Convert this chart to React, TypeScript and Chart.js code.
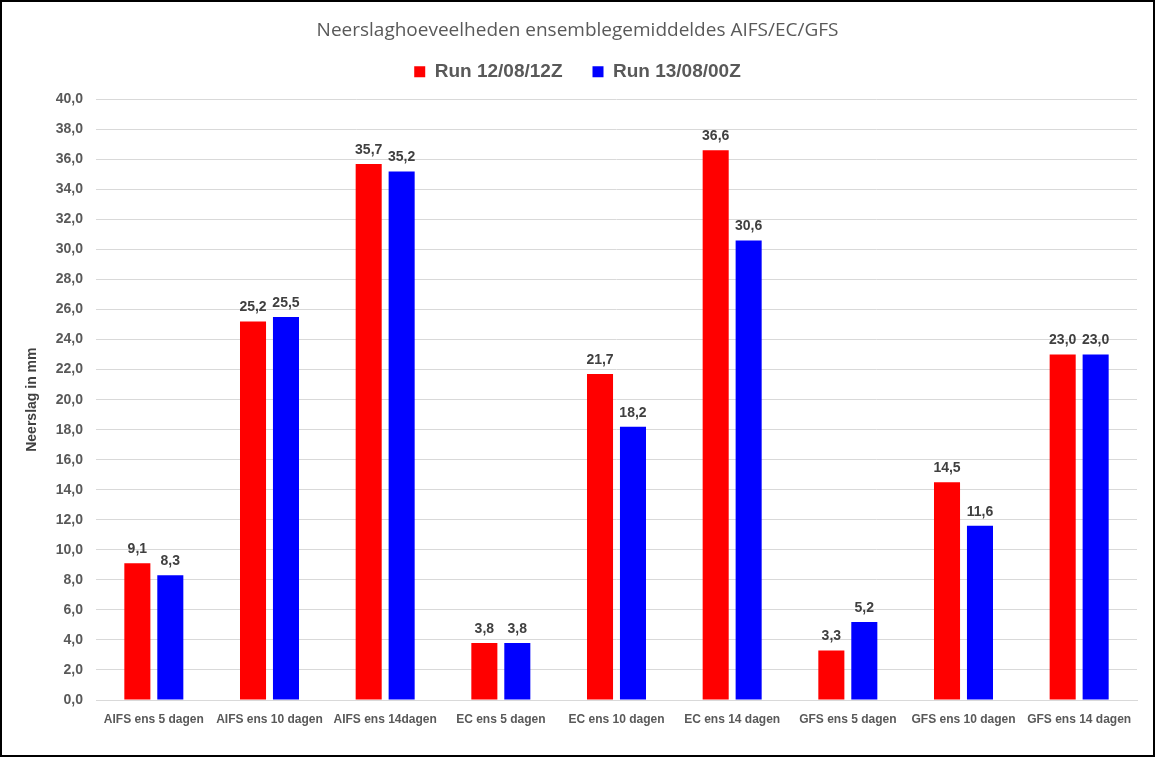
import React, { useEffect, useRef } from "react";
import { Chart, registerables } from "chart.js";

Chart.register(...registerables);

const categories = [
  "AIFS ens 5 dagen",
  "AIFS ens 10 dagen",
  "AIFS ens 14dagen",
  "EC ens 5 dagen",
  "EC ens 10 dagen",
  "EC ens 14 dagen",
  "GFS ens 5 dagen",
  "GFS ens 10 dagen",
  "GFS ens 14 dagen",
];
const run1Label = "Run 12/08/12Z";
const run2Label = "Run 13/08/00Z";
const run1Values = [9.1, 25.2, 35.7, 3.8, 21.7, 36.6, 3.3, 14.5, 23.0];
const run2Values = [8.3, 25.5, 35.2, 3.8, 18.2, 30.6, 5.2, 11.6, 23.0];
const chartTitle = "Neerslaghoeveelheden ensemblegemiddeldes AIFS/EC/GFS";
const yAxisTitle = "Neerslag in mm";

const fmt = (v: number) => v.toFixed(1).replace(".", ",");
const SANS = "'Liberation Sans', Arial, sans-serif";

const dataLabelPlugin = {
  id: "dataLabels",
  afterDatasetsDraw(chart: any) {
    const ctx = chart.ctx;
    ctx.save();
    ctx.font = `bold 14px ${SANS}`;
    ctx.fillStyle = "#404040";
    ctx.textAlign = "center";
    ctx.textBaseline = "bottom";
    chart.data.datasets.forEach((ds: any, di: number) => {
      const meta = chart.getDatasetMeta(di);
      meta.data.forEach((el: any, i: number) => {
        ctx.fillText(fmt(ds.data[i]), el.x, el.y - 7);
      });
    });
    ctx.restore();
  },
};

// adds a little space below the legend
const legendSpacePlugin = {
  id: "legendSpace",
  beforeInit(chart: any) {
    const legend = chart.legend;
    if (!legend) return;
    const origFit = legend.fit;
    legend.fit = function () {
      origFit.call(this);
      this.height += 8;
    };
  },
};

export default function App() {
  const ref = useRef<HTMLCanvasElement>(null);
  useEffect(() => {
    document.body.style.margin = "0";
    const chart = new Chart(ref.current!, {
      type: "bar",
      data: {
        labels: categories,
        datasets: [
          { label: run1Label, data: run1Values, backgroundColor: "#ff0000" },
          { label: run2Label, data: run2Values, backgroundColor: "#0000ff" },
        ],
      },
      options: {
        animation: false,
        responsive: false,
        maintainAspectRatio: false,
        layout: { padding: { left: 16, right: 16, top: 0, bottom: 0 } },
        datasets: { bar: { categoryPercentage: 0.57, barPercentage: 0.79 } },
        plugins: {
          title: {
            display: true,
            text: chartTitle,
            color: "#595959",
            font: { family: "'Open Sans', 'Liberation Sans', sans-serif", size: 19, weight: "normal" },
            padding: { top: 17, bottom: -9.5 },
          },
          legend: {
            display: true,
            labels: {
              color: "#595959",
              font: { family: SANS, size: 19, weight: "bold" },
              boxWidth: 11,
              boxHeight: 11,
              padding: 30,
            },
          },
          tooltip: { enabled: false },
        },
        scales: {
          x: {
            grid: { display: false, drawTicks: false },
            border: { display: true, color: "#d9d9d9" },
            ticks: {
              color: "#595959",
              font: { family: SANS, size: 12, weight: "bold" },
              padding: 12,
              maxRotation: 0,
              autoSkip: false,
            },
            afterFit(scale: any) {
              scale.height = 55;
            },
          },
          y: {
            min: 0,
            max: 40,
            ticks: {
              stepSize: 2,
              color: "#595959",
              font: { family: SANS, size: 14, weight: "bold" },
              padding: 13,
              callback: (v: any) => fmt(Number(v)),
            },
            grid: { color: "#d9d9d9", drawTicks: false },
            border: { display: false },
            title: {
              display: true,
              text: yAxisTitle,
              color: "#404040",
              font: { family: SANS, size: 14, weight: "bold" },
              padding: { top: 6, bottom: 0 },
            },
            afterFit(scale: any) {
              scale.width = 78;
            },
          },
        },
      },
      plugins: [dataLabelPlugin, legendSpacePlugin],
    });
    return () => chart.destroy();
  }, []);
  return (
    <div
      style={{
        position: "absolute",
        left: 0,
        top: 0,
        width: 1155,
        height: 757,
        boxSizing: "border-box",
        border: "2px solid #000",
        background: "#fff",
      }}
    >
      <canvas ref={ref} width={1151} height={753} style={{ display: "block" }} />
    </div>
  );
}
